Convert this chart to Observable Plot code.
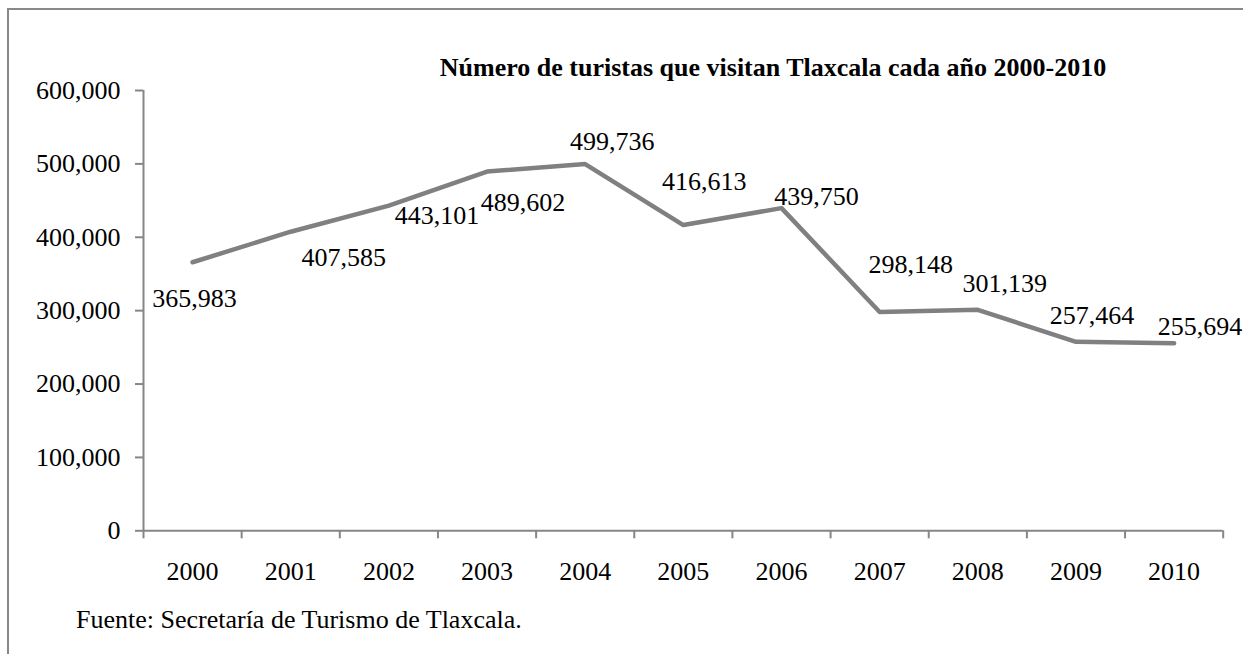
<!DOCTYPE html>
<html>
<head>
<meta charset="utf-8">
<script src="https://cdn.jsdelivr.net/npm/d3@7"></script>
<script src="https://cdn.jsdelivr.net/npm/@observablehq/plot@0.6"></script>
<style>
  html, body { margin: 0; padding: 0; background: #fff; overflow: hidden; }
  #wrap { position: relative; width: 1243px; height: 654px; overflow: hidden; font-family: "Liberation Serif", "Times New Roman", serif; }
  #frame { position: absolute; left: 7px; top: 8px; width: 1400px; height: 800px; border: 2px solid #898989; box-sizing: border-box; }
  #chart { position: absolute; left: 0; top: 0; }
  #title { position: absolute; left: 0; width: 1546px; top: 55px; text-align: center; font-weight: bold; font-size: 26px; line-height: 26px; color: #000; white-space: nowrap; }
  #source { position: absolute; left: 76px; top: 607px; font-size: 26px; line-height: 26px; color: #000; white-space: nowrap; }
</style>
</head>
<body>
<div id="wrap">
  <div id="frame"></div>
  <div id="chart"></div>
  <div id="title">Número de turistas que visitan Tlaxcala cada año 2000-2010</div>
  <div id="source">Fuente: Secretaría de Turismo de Tlaxcala.</div>
</div>
<script>
// Data
const years = [2000, 2001, 2002, 2003, 2004, 2005, 2006, 2007, 2008, 2009, 2010];
const tourists = [365983, 407585, 443101, 489602, 499736, 416613, 439750, 298148, 301139, 257464, 255694];
const yTicks = [0, 100000, 200000, 300000, 400000, 500000, 600000];

// Label nudges (pixels) for the data labels, as placed in the original chart
const labelDx = [2, 53, 48, 36, 27, 21, 35, 31, 27, 16, 26];
const labelDy = [36, 26, 10, 31, -22, -43, -11, -47, -26, -26, -16];

const data = years.map((y, i) => ({year: y, value: tourists[i]}));
const boundaries = [years[0] - 0.5, ...years.map(y => y + 0.5)];
const gray = "#868686";
const fmt = d3.format(",");

const labelMarks = data.map((d, i) => Plot.text([d], {
  x: "year", y: "value", text: dd => fmt(dd.value),
  dx: labelDx[i], dy: labelDy[i], fill: "#000"
}));

const chart = Plot.plot({
  width: 1243,
  height: 654,
  marginLeft: 143,
  marginRight: 20.3,
  marginTop: 90,
  marginBottom: 123.7,
  style: {fontFamily: "Liberation Serif", fontSize: "26px", color: "#000", background: "transparent"},
  x: {type: "linear", domain: [boundaries[0], boundaries[boundaries.length - 1]]},
  y: {domain: [0, 600000]},
  marks: [
    Plot.axisY({ticks: yTicks, tickSize: 8, tickPadding: 15, tickFormat: fmt, stroke: gray, strokeWidth: 2, fill: "#000", label: null}),
    Plot.axisX({ticks: boundaries, tickSize: 8, tickFormat: () => "", stroke: gray, strokeWidth: 2, label: null}),
    Plot.axisX({ticks: years, tickSize: 0, tickPadding: 31, tickFormat: d3.format("d"), fill: "#000", label: null}),
    Plot.ruleY([0], {stroke: gray, strokeWidth: 2}),
    Plot.ruleX([boundaries[0]], {stroke: gray, strokeWidth: 2}),
    Plot.line(data, {x: "year", y: "value", stroke: "#808080", strokeWidth: 4.5, strokeLinejoin: "round", strokeLinecap: "round"}),
    ...labelMarks
  ]
});
document.getElementById("chart").appendChild(chart);
</script>
</body>
</html>
